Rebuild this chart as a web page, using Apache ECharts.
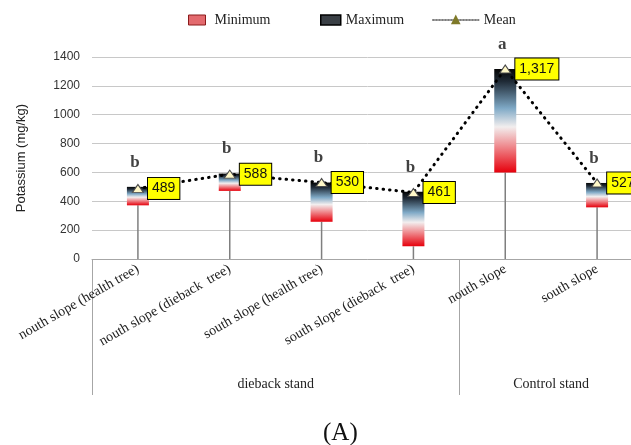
<!DOCTYPE html>
<html>
<head>
<meta charset="utf-8">
<script src="https://cdn.jsdelivr.net/npm/echarts@6/dist/echarts.min.js"></script>
<style>html,body{margin:0;padding:0;background:#fff;overflow:hidden}#c{width:660px;height:445px}</style>
</head>
<body>
<div id="c"></div>
<script>
const categories = ['nouth slope (health tree)', 'nouth slope (dieback  tree)', 'south slope (health tree)', 'south slope (dieback  tree)', 'nouth slope', 'south slope'];
const minValues = [372, 472, 258, 88, 600, 358];
const maxValues = [500, 592, 530, 466, 1317, 527];
const meanValues = [489, 588, 530, 461, 1317, 527];
const letters = ['b', 'b', 'b', 'b', 'a', 'b'];
const groupNames = ['dieback stand', 'Control stand'];
const groupCenters = [2, 5];
const groupBounds = [0, 4];
const yTicks = [0, 200, 400, 600, 800, 1000, 1200, 1400];

const chart = echarts.init(document.getElementById('c'));
const serif = '"Liberation Serif", "DejaVu Serif", serif';
const sans = '"Liberation Sans", Arial, sans-serif';

const barGradient = {
  type: 'linear', x: 0, y: 0, x2: 0, y2: 1,
  colorStops: [
    {offset: 0, color: '#050505'},
    {offset: 0.12, color: '#1f2a36'},
    {offset: 0.38, color: '#7fa9c6'},
    {offset: 0.56, color: '#f2eeee'},
    {offset: 0.74, color: '#ef8e92'},
    {offset: 1, color: '#e6000c'}
  ]
};

const rangeData = categories.map((c, i) => [i, minValues[i], maxValues[i]]);

chart.setOption({
  animation: false,
  title: {text: '(A)', left: 318, top: 416, textStyle: {fontFamily: serif, fontSize: 25, fontWeight: 'normal', color: '#111'}},
  legend: [
    {left: 183, top: 8, itemWidth: 17, itemHeight: 10, data: [{name: 'Minimum', icon: 'rect', itemStyle: {color: '#e36a6e', borderColor: '#8a1a1a', borderWidth: 1}}],
      textStyle: {fontFamily: serif, fontSize: 14, color: '#222', padding: [0, 0, 0, 4]}},
    {left: 315, top: 8, itemWidth: 20, itemHeight: 10, data: [{name: 'Maximum', icon: 'rect', itemStyle: {color: '#3a3f45', borderColor: '#000', borderWidth: 1.5}}],
      textStyle: {fontFamily: serif, fontSize: 14, color: '#222'}},
    {left: 427, top: 8, itemWidth: 46, itemHeight: 8, data: [{name: 'Mean', itemStyle: {color: '#7f7a2a', borderColor: '#7f7a2a'}, lineStyle: {color: '#555', type: 'dotted', width: 1.5}}],
      textStyle: {fontFamily: serif, fontSize: 14, color: '#222'}}
  ],
  grid: {left: 92, top: 57, width: 551, height: 202},
  xAxis: [
    {type: 'category', data: categories, boundaryGap: true,
      axisLine: {lineStyle: {color: '#a6a6a6'}}, axisTick: {show: false},
      axisLabel: {rotate: 30, margin: 9, interval: 0, fontFamily: serif, fontSize: 14, color: '#222'}},
    {type: 'value', min: 0, max: 6, position: 'bottom', offset: 136,
      axisLine: {show: false}, splitLine: {show: false},
      axisTick: {show: true, inside: true, length: 136, customValues: groupBounds, lineStyle: {color: '#a6a6a6'}},
      axisLabel: {inside: true, margin: 4, customValues: groupCenters,
        formatter: v => groupNames[groupCenters.indexOf(v)] || '',
        fontFamily: serif, fontSize: 14, color: '#222'}}
  ],
  yAxis: {type: 'value', min: yTicks[0], max: yTicks[yTicks.length - 1], interval: 200,
    name: 'Potassium (mg/kg)', nameLocation: 'middle', nameGap: 64,
    nameTextStyle: {fontFamily: sans, fontSize: 13, color: '#222'},
    axisLine: {show: false}, axisTick: {show: false},
    axisLabel: {margin: 12, fontFamily: sans, fontSize: 12, color: '#333', formatter: v => String(v)},
    splitLine: {lineStyle: {color: '#c8c8c8'}}},
  series: [
    {name: 'Minimum', type: 'custom', data: rangeData, silent: true, z: 2,
      renderItem: (params, api) => {
        const x = api.value(0), lo = api.value(1);
        const p0 = api.coord([x, 0]), p1 = api.coord([x, lo]);
        return {type: 'line', shape: {x1: p0[0], y1: p0[1], x2: p1[0], y2: p1[1]}, style: {stroke: '#7f7f7f', lineWidth: 1.5}};
      }},
    {name: 'Maximum', type: 'custom', data: rangeData, silent: true, z: 3,
      renderItem: (params, api) => {
        const x = api.value(0), lo = api.value(1), hi = api.value(2);
        const pLo = api.coord([x, lo]), pHi = api.coord([x, hi]);
        const w = 22;
        return {type: 'rect', shape: {x: pLo[0] - w / 2, y: pHi[1], width: w, height: pLo[1] - pHi[1]}, style: {fill: barGradient}};
      }},
    {name: 'Mean', type: 'line', data: meanValues, z: 5,
      symbol: 'triangle', symbolSize: [11, 8],
      itemStyle: {color: '#fff8c8', borderColor: '#4a4a4a', borderWidth: 1},
      lineStyle: {color: '#000', width: 3, type: [0.5, 6], cap: 'round'},
      label: {show: true, position: 'right', distance: 4,
        formatter: p => p.value.toLocaleString('en-US'),
        backgroundColor: '#ffff00', borderColor: '#000', borderWidth: 1, padding: [4, 4, 3, 4],
        fontFamily: sans, fontSize: 14, color: '#111'}},
    {name: 'letters', type: 'scatter', data: categories.map((c, i) => [i, maxValues[i]]), symbolSize: 0, silent: true, z: 6,
      label: {show: true, position: 'top', distance: 16, offset: [-3, 0],
        formatter: p => letters[p.dataIndex], fontFamily: serif, fontWeight: 'bold', fontSize: 17, color: '#111'}}
  ]
});
</script>
</body>
</html>
